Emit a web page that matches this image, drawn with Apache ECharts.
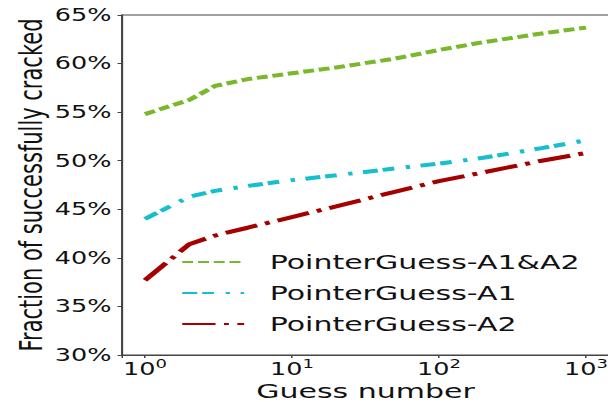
<!DOCTYPE html>
<html>
<head>
<meta charset="utf-8">
<script src="https://cdn.jsdelivr.net/npm/echarts@6/dist/echarts.min.js"></script>
<style>
html,body{margin:0;padding:0;overflow:hidden;background:#fff;width:608px;height:402px;}
#c{width:406px;height:402px;transform:scaleX(1.5);transform-origin:0 0;}
</style>
</head>
<body>
<div id="c"></div>
<script>
// Data
var guessNumbers = [1, 2, 3, 5, 10, 20, 50, 100, 200, 500, 1000];
var seriesNames = ['PointerGuess-A1&A2', 'PointerGuess-A1', 'PointerGuess-A2'];
var valuesA1A2 = [54.8, 56.25, 57.7, 58.4, 59.0, 59.6, 60.5, 61.4, 62.2, 63.1, 63.7];
var valuesA1   = [44.0, 46.3, 46.9, 47.4, 48.0, 48.5, 49.2, 49.7, 50.3, 51.3, 52.1];
var valuesA2   = [37.7, 41.4, 42.3, 43.1, 44.2, 45.3, 46.8, 47.9, 48.8, 50.0, 50.8];
var yTicks = [30, 35, 40, 45, 50, 55, 60, 65];
var xTickPowers = [0, 1, 2, 3];

function pairs(vals) {
  return guessNumbers.map(function (g, i) { return [g, vals[i]]; });
}

var FONT = 'DejaVu Sans';
var chart = echarts.init(document.getElementById('c'), null, {renderer: 'svg'});

var colors = ['#78b82a', '#17becf', '#a50000'];
var dashes = [[7.3, 3.2], [10, 3.3, 7.8, 7.8, 2.9, 7.1], [22.2, 5.6, 3.3, 5.6]];
var allVals = [valuesA1A2, valuesA1, valuesA2];

var option = {
  backgroundColor: '#fff',
  animation: false,
  grid: {
    left: 81.33, top: 15, right: 0, bottom: 47,
    outerBoundsMode: 'none',
    containLabel: false,
    show: true, borderColor: '#444', borderWidth: 1.2, backgroundColor: 'transparent'
  },
  legend: {
    orient: 'vertical',
    left: 120.5,
    top: 252,
    padding: 0,
    itemWidth: 41.3,
    itemHeight: 14,
    itemGap: 11,
    data: seriesNames,
    itemStyle: {opacity: 0},
    textStyle: {fontFamily: FONT, fontSize: 20, color: '#111', padding: [0, 0, 0, 12]}
  },
  xAxis: {
    type: 'log',
    logBase: 10,
    min: 0.698,
    max: 1435,
    name: 'Guess number',
    nameLocation: 'middle',
    nameGap: 29,
    nameMoveOverlap: false,
    nameTextStyle: {fontFamily: FONT, fontSize: 20, lineHeight: 14, color: '#111'},
    axisLine: {lineStyle: {color: '#444', width: 1.2}},
    axisTick: {show: true, length: 3, lineStyle: {color: '#444'}},
    splitLine: {show: false},
    axisLabel: {
      margin: 3,
      formatter: function (v) {
        for (var i = 0; i < xTickPowers.length; i++) {
          if (Math.abs(v - Math.pow(10, xTickPowers[i])) < 1e-6 * Math.pow(10, xTickPowers[i])) {
            return '{b|10}{s|' + xTickPowers[i] + '}';
          }
        }
        return '';
      },
      rich: {
        b: {fontFamily: FONT, fontSize: 17, color: '#111', lineHeight: 20, verticalAlign: 'bottom'},
        s: {fontFamily: FONT, fontSize: 12, color: '#111', lineHeight: 20, verticalAlign: 'top'}
      }
    }
  },
  yAxis: {
    type: 'value',
    min: yTicks[0],
    max: yTicks[yTicks.length - 1],
    interval: 5,
    name: 'Fraction of successfully cracked',
    nameLocation: 'middle',
    nameGap: 50,
    nameMoveOverlap: false,
    nameTextStyle: {fontFamily: FONT, fontSize: 21, color: '#111'},
    axisLine: {show: true, lineStyle: {color: '#444', width: 1.2}},
    axisTick: {show: true, length: 3, lineStyle: {color: '#444'}},
    splitLine: {show: false},
    axisLabel: {
      margin: 7,
      fontFamily: FONT, fontSize: 17, color: '#111',
      formatter: '{value}%'
    }
  },
  series: seriesNames.map(function (name, i) {
    return {
      name: name,
      type: 'line',
      data: pairs(allVals[i]),
      showSymbol: false,
      symbol: 'none',
      color: colors[i],
      lineStyle: {color: colors[i], width: 4, type: dashes[i], cap: 'butt'},
      z: 3 - i
    };
  })
};
chart.setOption(option);
</script>
</body>
</html>
